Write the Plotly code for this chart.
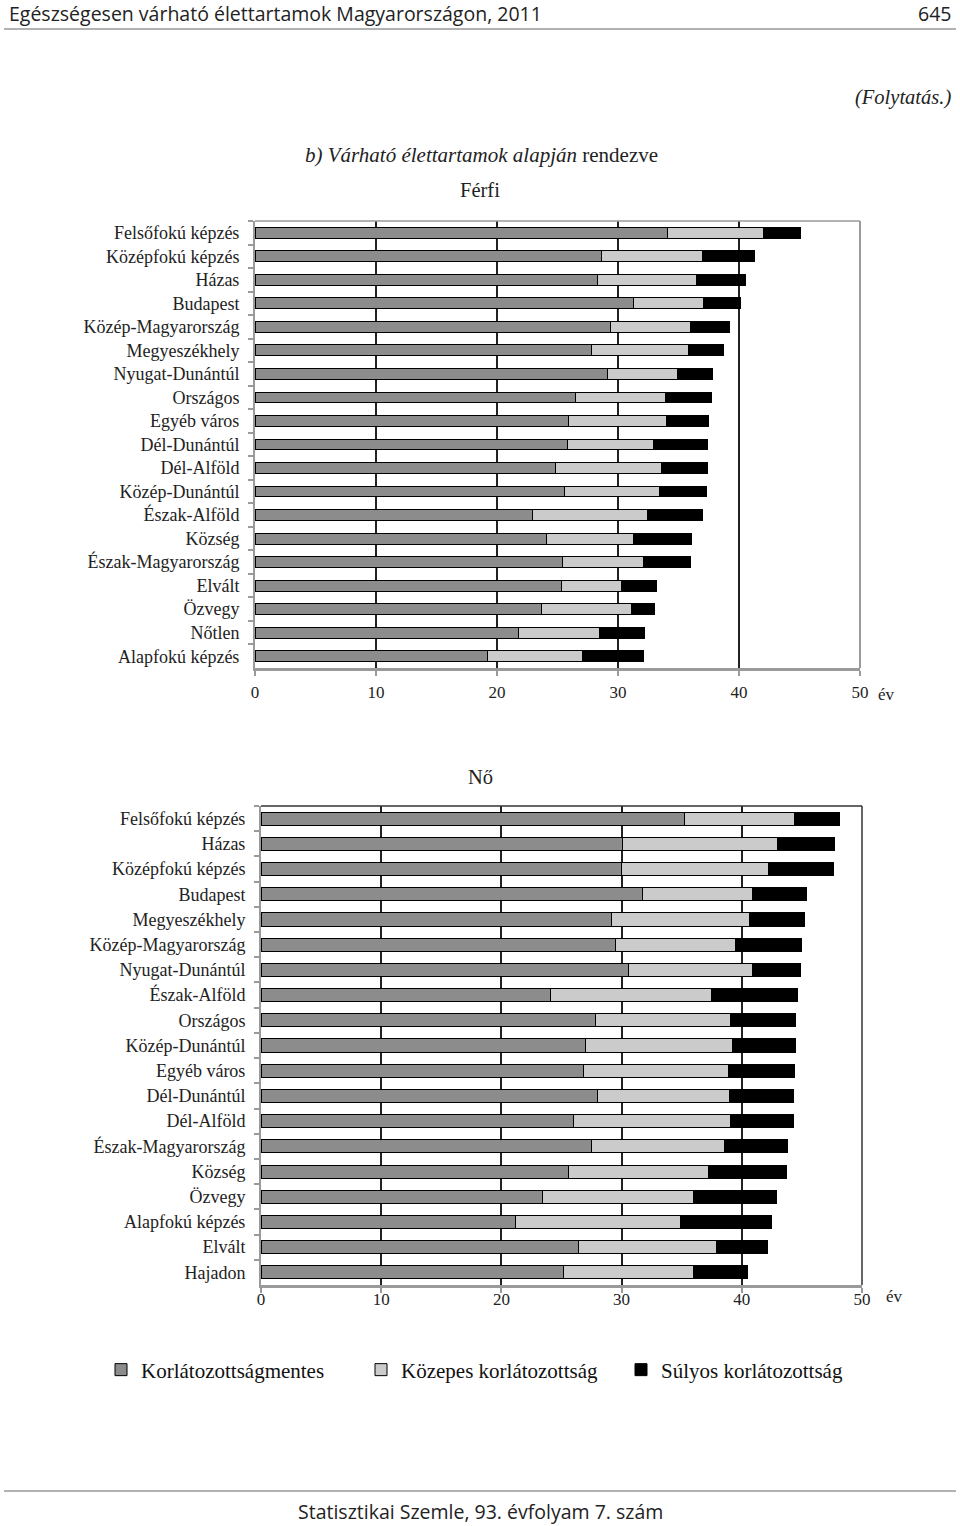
import plotly.graph_objects as go

W, H = 960, 1526

# ---------------- data ----------------
men_categories = ["Felsőfokú képzés", "Középfokú képzés", "Házas", "Budapest",
                  "Közép-Magyarország", "Megyeszékhely", "Nyugat-Dunántúl", "Országos",
                  "Egyéb város", "Dél-Dunántúl", "Dél-Alföld", "Közép-Dunántúl",
                  "Észak-Alföld", "Község", "Észak-Magyarország", "Elvált", "Özvegy",
                  "Nőtlen", "Alapfokú képzés"]
men_healthy = [34.1, 28.6, 28.3, 31.3, 29.4, 27.8, 29.1, 26.5, 25.9, 25.8,
               24.8, 25.6, 22.9, 24.1, 25.4, 25.3, 23.7, 21.8, 19.2]
men_moderate = [7.9, 8.4, 8.2, 5.8, 6.6, 8.0, 5.8, 7.4, 8.1, 7.1,
                8.8, 7.8, 9.5, 7.2, 6.7, 5.0, 7.4, 6.7, 7.9]
men_severe = [3.1, 4.3, 4.0, 3.0, 3.2, 2.9, 2.9, 3.8, 3.5, 4.5,
              3.8, 3.9, 4.6, 4.8, 3.9, 2.9, 1.9, 3.7, 5.0]

women_categories = ["Felsőfokú képzés", "Házas", "Középfokú képzés", "Budapest",
                    "Megyeszékhely", "Közép-Magyarország", "Nyugat-Dunántúl",
                    "Észak-Alföld", "Országos", "Közép-Dunántúl", "Egyéb város",
                    "Dél-Dunántúl", "Dél-Alföld", "Észak-Magyarország", "Község",
                    "Özvegy", "Alapfokú képzés", "Elvált", "Hajadon"]
women_healthy = [35.2, 30.1, 30.0, 31.7, 29.2, 29.5, 30.6, 24.1, 27.8, 27.0,
                 26.8, 28.0, 26.0, 27.5, 25.6, 23.4, 21.2, 26.4, 25.2]
women_moderate = [9.2, 12.9, 12.2, 9.2, 11.4, 10.0, 10.3, 13.4, 11.3, 12.2,
                  12.1, 11.0, 13.1, 11.1, 11.6, 12.6, 13.7, 11.5, 10.8]
women_severe = [3.7, 4.7, 5.4, 4.5, 4.6, 5.5, 4.0, 7.1, 5.4, 5.3,
                5.5, 5.3, 5.2, 5.2, 6.5, 6.9, 7.6, 4.2, 4.5]

series_names = ["Korlátozottságmentes", "Közepes korlátozottság", "Súlyos korlátozottság"]
series_colors = ["#8c8c8c", "#cbcbcb", "#000000"]
x_ticks = [0, 10, 20, 30, 40, 50]

SERIF = "Liberation Serif"
SANS = "Open Sans"


def px(x):
    return x / W


def py(y):
    return 1 - y / H


fig = go.Figure()

men_vals = [men_healthy, men_moderate, men_severe]
women_vals = [women_healthy, women_moderate, women_severe]

for i, name in enumerate(series_names):
    fig.add_trace(go.Bar(
        y=men_categories, x=men_vals[i], orientation="h", name=name,
        marker=dict(color=series_colors[i], line=dict(color="#000", width=1)),
        width=0.46, xaxis="x", yaxis="y", showlegend=True, legendgroup=name))
for i, name in enumerate(series_names):
    fig.add_trace(go.Bar(
        y=women_categories, x=women_vals[i], orientation="h", name=name,
        marker=dict(color=series_colors[i], line=dict(color="#000", width=1)),
        width=0.52, xaxis="x2", yaxis="y2", showlegend=False, legendgroup=name))

xaxis_common = dict(
    range=[0, 50], tickvals=x_ticks, showgrid=True, gridcolor="#222", gridwidth=1.5,
    zeroline=False, showline=True, linecolor="#9a9a9a", linewidth=3,
    ticks="outside", ticklen=5, tickwidth=2, tickcolor="#9a9a9a", automargin=False,
    tickfont=dict(family=SERIF, size=17, color="#222"), fixedrange=True)
yaxis_common = dict(
    type="category", autorange="reversed", showgrid=False, zeroline=False,
    showline=True, linecolor="#9a9a9a", linewidth=2, ticks="outside",
    tickson="boundaries", ticklen=5, tickwidth=2, tickcolor="#9a9a9a", automargin=False,
    tickfont=dict(family=SERIF, size=18, color="#222"), ticklabelstandoff=10)

fig.update_layout(
    width=W, height=H, margin=dict(l=0, r=0, t=0, b=0, autoexpand=False),
    paper_bgcolor="white", plot_bgcolor="white", barmode="stack",
    xaxis=dict(domain=[px(255), px(860)], anchor="y", ticklabelstandoff=2, **xaxis_common),
    yaxis=dict(domain=[py(668), py(221)], anchor="x", **yaxis_common),
    xaxis2=dict(domain=[px(261), px(862)], anchor="y2", ticklabelstandoff=-8, **xaxis_common),
    yaxis2=dict(domain=[py(1285), py(806)], anchor="x2", **yaxis_common),
    legend=dict(orientation="h", x=px(101), y=py(1370), xanchor="left", yanchor="middle",
                font=dict(family=SERIF, size=21, color="#111"),
                entrywidth=215, entrywidthmode="pixels", traceorder="normal",
                itemwidth=30, bgcolor="rgba(0,0,0,0)"),
    showlegend=True,
)

# borders and page rules
shapes = [
    dict(type="line", xref="paper", yref="paper", x0=px(255), x1=px(860), y0=py(221), y1=py(221),
         line=dict(color="#9a9a9a", width=1.5), layer="above"),
    dict(type="line", xref="paper", yref="paper", x0=px(860), x1=px(860), y0=py(221), y1=py(668),
         line=dict(color="#9a9a9a", width=2), layer="above"),
    dict(type="line", xref="paper", yref="paper", x0=px(261), x1=px(862), y0=py(806), y1=py(806),
         line=dict(color="#333", width=1.5), layer="above"),
    dict(type="line", xref="paper", yref="paper", x0=px(862), x1=px(862), y0=py(806), y1=py(1285),
         line=dict(color="#333", width=1.5), layer="above"),
    dict(type="line", xref="paper", yref="paper", x0=px(4), x1=px(956), y0=py(29), y1=py(29),
         line=dict(color="#999", width=1.5)),
    dict(type="line", xref="paper", yref="paper", x0=px(4), x1=px(956), y0=py(1491), y1=py(1491),
         line=dict(color="#999", width=1.5)),
]
fig.update_layout(shapes=shapes)

ann = [
    dict(text="Egészségesen várható élettartamok Magyarországon, 2011", x=px(7), y=py(13),
         xanchor="left", yanchor="middle", font=dict(family=SANS, size=19.5, color="#222")),
    dict(text="645", x=px(953), y=py(13), xanchor="right", yanchor="middle",
         font=dict(family=SANS, size=19.5, color="#222")),
    dict(text="<i>(Folytatás.)</i>", x=px(953), y=py(97), xanchor="right", yanchor="middle",
         font=dict(family=SERIF, size=20.5, color="#222")),
    dict(text="<i>b) Várható élettartamok alapján</i> rendezve", x=px(481), y=py(155),
         xanchor="center", yanchor="middle", font=dict(family=SERIF, size=21, color="#222")),
    dict(text="Férfi", x=px(480), y=py(190), xanchor="center", yanchor="middle",
         font=dict(family=SERIF, size=20.5, color="#222")),
    dict(text="Nő", x=px(480), y=py(777), xanchor="center", yanchor="middle",
         font=dict(family=SERIF, size=20.5, color="#222")),
    dict(text="év", x=px(876), y=py(694), xanchor="left", yanchor="middle",
         font=dict(family=SERIF, size=17, color="#222")),
    dict(text="év", x=px(884), y=py(1296), xanchor="left", yanchor="middle",
         font=dict(family=SERIF, size=17, color="#222")),
    dict(text="Statisztikai Szemle, 93. évfolyam 7. szám", x=px(480), y=py(1511),
         xanchor="center", yanchor="middle", font=dict(family=SANS, size=19.5, color="#222")),
]
for a in ann:
    a.update(xref="paper", yref="paper", showarrow=False)
fig.update_layout(annotations=ann)

fig.write_html("out.html", config={"displayModeBar": False},
               post_script="document.body.style.margin='0px';document.body.style.overflow='hidden';")
